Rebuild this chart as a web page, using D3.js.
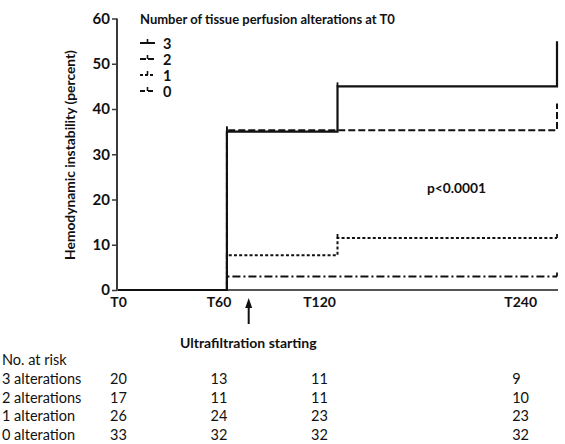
<!DOCTYPE html>
<html>
<head>
<meta charset="utf-8">
<script src="https://cdn.jsdelivr.net/npm/d3@7"></script>
<style>
  html, body { margin: 0; padding: 0; background: #fff; }
  svg { display: block; font-family: Lato, "Open Sans", sans-serif; }
  .bold { font-weight: bold; }
</style>
</head>
<body>
<svg id="chart" width="565" height="444"></svg>
<script>
// Cumulative hemodynamic instability (%) by number of tissue perfusion alterations at T0
const groups = ["3", "2", "1", "0"];
const stepTimes = {            // minutes at which each curve steps
  "3": [0, 65, 131, 262],
  "2": [0, 65, 262],
  "1": [0, 65, 131],
  "0": [0, 65]
};
const stepValues = {           // percent reached at each step time
  "3": [0, 35, 45, 55],
  "2": [0, 35.3, 41.2],
  "1": [0, 7.7, 11.5],
  "0": [0, 3.0]
};
const censorTimes = {
  "3": [65, 131],
  "2": [65],
  "1": [131, 262],
  "0": [262]
};
const endTime = 262;
const yTicks = [0, 10, 20, 30, 40, 50, 60];
const xTickTimes = [0, 60, 120, 240];
const xTickLabels = ["T0", "T60", "T120", "T240"];
const riskRowLabels = ["3 alterations", "2 alterations", "1 alteration", "0 alteration"];
const riskCounts = [
  [20, 13, 11, 9],
  [17, 11, 11, 10],
  [26, 24, 23, 23],
  [33, 32, 32, 32]
];
const arrowTime = 78;

const dashes = { "3": null, "2": "7,3", "1": "3,2.2", "0": "8,3,2,3" };

const svg = d3.select("#chart");
const x = d3.scaleLinear().domain([0, 262]).range([118, 557]);
const y = d3.scaleLinear().domain([0, 60]).range([290, 18.5]);

// axes
const yAxis = d3.axisLeft(y).tickValues(yTicks).tickSize(5).tickPadding(2);
const gy = svg.append("g").attr("transform", "translate(117,0)").call(yAxis);
gy.select(".domain").attr("stroke", "#3a3a3a").attr("stroke-width", 2).attr("d", `M0,${y(0)}V${y(60)}`);
gy.selectAll(".tick line").attr("stroke", "#3a3a3a").attr("stroke-width", 1.5);
gy.selectAll(".tick text").attr("class", "bold").attr("font-size", 15).attr("fill", "#111")
  .attr("font-family", "Lato, sans-serif");

const xAxis = d3.axisBottom(x).tickValues(xTickTimes)
  .tickFormat((d, i) => xTickLabels[i]).tickSize(0).tickPadding(7);
const gx = svg.append("g").attr("transform", `translate(0,${y(0)})`).call(xAxis);
gx.select(".domain").attr("stroke", "#555").attr("stroke-width", 2).attr("d", "M117,0H558");
gx.selectAll(".tick text").attr("class", "bold").attr("font-size", 14).attr("fill", "#111")
  .attr("font-family", "Lato, sans-serif");

// survival-style step curves
const line = d3.line().x(d => x(d[0])).y(d => y(d[1])).curve(d3.curveStepAfter);
groups.slice().reverse().forEach(g => {
  const pts = stepTimes[g].map((t, i) => [t, stepValues[g][i]]);
  if (pts[pts.length - 1][0] < endTime) pts.push([endTime, pts[pts.length - 1][1]]);
  svg.append("path").datum(pts)
    .attr("d", line)
    .attr("fill", "none").attr("stroke", "#111")
    .attr("stroke-width", g === "3" ? 2.2 : 2)
    .attr("stroke-dasharray", dashes[g]);
  const valAt = t => {
    let v = 0;
    stepTimes[g].forEach((s, i) => { if (s <= t) v = stepValues[g][i]; });
    return v;
  };
  svg.selectAll(null).data(censorTimes[g]).enter().append("line")
    .attr("x1", t => x(t)).attr("x2", t => x(t))
    .attr("y1", t => y(valAt(t))).attr("y2", t => y(valAt(t)) - 4)
    .attr("stroke", "#111").attr("stroke-width", 1.8);
});

// legend
svg.append("text").attr("class", "bold").attr("x", 140).attr("y", 24)
  .attr("font-size", 13).attr("fill", "#111")
  .text("Number of tissue perfusion alterations at T0");
const leg = svg.append("g").selectAll("g").data(groups).enter().append("g")
  .attr("transform", (d, i) => `translate(140,${43 + i * 16})`);
leg.append("line").attr("x1", 0).attr("x2", 15).attr("y1", 0).attr("y2", 0)
  .attr("stroke", "#111").attr("stroke-width", 2)
  .attr("stroke-dasharray", d => d === "3" ? null : d === "2" ? "6,2" : d === "1" ? "3,2" : "5,3");
leg.append("line").attr("x1", 7.5).attr("x2", 7.5).attr("y1", 0).attr("y2", -4)
  .attr("stroke", "#111").attr("stroke-width", 1.6);
leg.append("text").attr("class", "bold").attr("x", 23).attr("y", 5.5)
  .attr("font-size", 14.5).attr("fill", "#111").text(d => d);

// annotations
svg.append("text").attr("class", "bold").attr("x", 427).attr("y", 193)
  .attr("font-size", 13.8).attr("fill", "#111").text("p<0.0001");
svg.append("text").attr("class", "bold")
  .attr("transform", "translate(75,155) rotate(-90)").attr("text-anchor", "middle")
  .attr("font-size", 13.8).attr("fill", "#111").text("Hemodynamic instability (percent)");

svg.append("line").attr("x1", x(arrowTime)).attr("x2", x(arrowTime))
  .attr("y1", 324).attr("y2", 303)
  .attr("stroke", "#111").attr("stroke-width", 2);
svg.append("path")
  .attr("d", `M${x(arrowTime) - 3.5},308 L${x(arrowTime)},298 L${x(arrowTime) + 3.5},308 Z`)
  .attr("fill", "#111");
svg.append("text").attr("class", "bold").attr("x", 180).attr("y", 348)
  .attr("font-size", 14).attr("fill", "#111").text("Ultrafiltration starting");

// number at risk table
const tbl = svg.append("g").attr("font-size", 14.5).attr("fill", "#111");
tbl.append("text").attr("x", 2).attr("y", 365).text("No. at risk");
riskRowLabels.forEach((lab, r) => {
  const yy = 384 + r * 18.5;
  tbl.append("text").attr("x", 2).attr("y", yy).text(lab);
  tbl.selectAll(null).data(riskCounts[r]).enter().append("text")
    .attr("x", (d, c) => x(xTickTimes[c]) - 8).attr("y", yy).text(d => d);
});
</script>
</body>
</html>
